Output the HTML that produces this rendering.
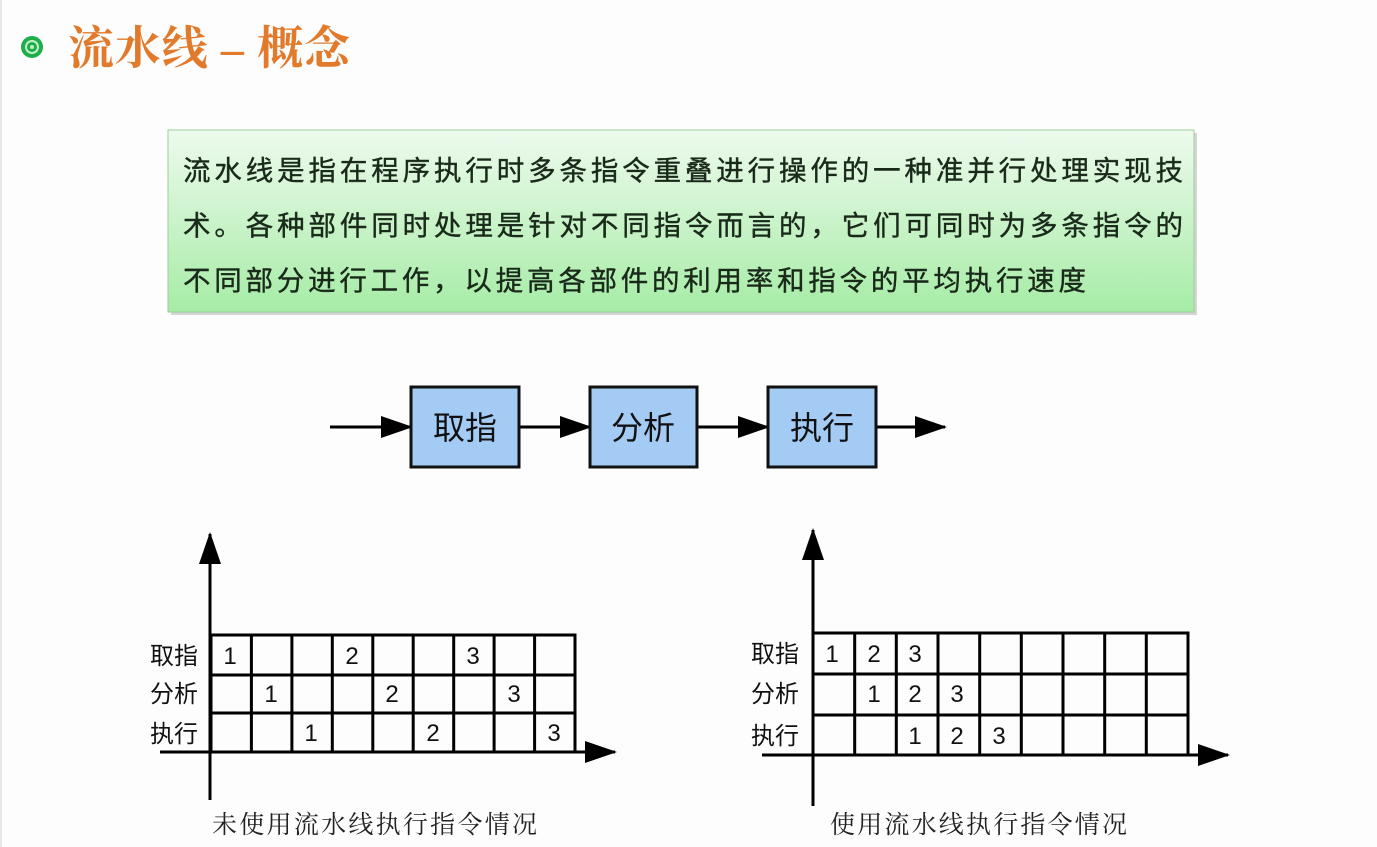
<!DOCTYPE html>
<html><head><meta charset="utf-8"><style>
body{margin:0;width:1377px;height:847px;background:#fdfdfd;overflow:hidden}
svg{display:block}
</style></head><body>
<svg width="1377" height="847" viewBox="0 0 1377 847" xmlns="http://www.w3.org/2000/svg">
<defs>
<linearGradient id="g" x1="0" y1="0" x2="0" y2="1">
<stop offset="0" stop-color="#eefaee"/><stop offset="1" stop-color="#a6eca6"/>
</linearGradient>
<marker id="a" markerWidth="32" markerHeight="22" refX="30" refY="11" orient="auto" markerUnits="userSpaceOnUse" viewBox="0 0 32 22"><path d="M0,0 L32,11 L0,22 z" fill="#000"/></marker>
</defs>
<rect x="0" y="0" width="2" height="847" fill="#e8e8e8"/>
<!-- title -->
<circle cx="32" cy="47" r="11" fill="#1fae4a"/>
<circle cx="32" cy="47" r="6" fill="none" stroke="#bff0c8" stroke-width="2"/>
<circle cx="32" cy="47" r="2" fill="#bff0c8"/>
<text x="68" y="64" font-family="'Liberation Serif','Noto Serif CJK SC',serif" font-size="46" font-weight="bold" fill="#e27a2c" textLength="282">流水线 – 概念</text>
<!-- green box -->
<rect x="171" y="133" width="1026" height="182" fill="#bbb" opacity="0.6"/>
<rect x="168" y="130" width="1026" height="182" fill="url(#g)" stroke="#9ccf9c" stroke-width="1"/>
<g font-family="'Liberation Sans','Noto Sans CJK SC',sans-serif" font-size="27.5" fill="#1a2a1a" stroke="#1a2a1a" stroke-width="0.4">
<text x="183" y="180" textLength="1000">流水线是指在程序执行时多条指令重叠进行操作的一种准并行处理实现技</text>
<text x="183" y="235" textLength="1000">术。各种部件同时处理是针对不同指令而言的，它们可同时为多条指令的</text>
<text x="183" y="290" textLength="903">不同部分进行工作，以提高各部件的利用率和指令的平均执行速度</text>
</g>
<!-- flow -->
<g stroke="#000" stroke-width="3">
<line x1="330" y1="427" x2="411" y2="427" marker-end="url(#a)"/>
<line x1="519" y1="427" x2="590" y2="427" marker-end="url(#a)"/>
<line x1="697" y1="427" x2="768" y2="427" marker-end="url(#a)"/>
<line x1="876" y1="427" x2="945" y2="427" marker-end="url(#a)"/>
</g>
<g fill="#a4cbf4" stroke="#111" stroke-width="3">
<rect x="411" y="387" width="108" height="80"/>
<rect x="590" y="387" width="107" height="80"/>
<rect x="768" y="387" width="108" height="80"/>
</g>
<g font-family="'Liberation Sans','Noto Sans CJK SC',sans-serif" font-size="32" fill="#111" text-anchor="middle">
<text x="465" y="439">取指</text><text x="643" y="439">分析</text><text x="822" y="439">执行</text>
</g>
<!-- left chart -->
<g stroke="#000" stroke-width="3" fill="none">
<line x1="210" y1="800" x2="210" y2="534" marker-end="url(#a)"/>
<line x1="160" y1="752" x2="615" y2="752" marker-end="url(#a)"/>
<rect x="211" y="635" width="364" height="117"/>
<line x1="211" y1="675" x2="575" y2="675"/><line x1="211" y1="713" x2="575" y2="713"/>
<line x1="251.4" y1="635" x2="251.4" y2="752"/><line x1="291.9" y1="635" x2="291.9" y2="752"/>
<line x1="332.3" y1="635" x2="332.3" y2="752"/><line x1="372.8" y1="635" x2="372.8" y2="752"/>
<line x1="413.2" y1="635" x2="413.2" y2="752"/><line x1="453.7" y1="635" x2="453.7" y2="752"/>
<line x1="494.1" y1="635" x2="494.1" y2="752"/><line x1="534.6" y1="635" x2="534.6" y2="752"/>
</g>
<g font-family="'Liberation Sans','Noto Sans CJK SC',sans-serif" font-size="24" fill="#111" text-anchor="middle">
<text x="174" y="664">取指</text><text x="174" y="702">分析</text><text x="174" y="742">执行</text>
<text x="230" y="664">1</text><text x="352" y="664">2</text><text x="473" y="664">3</text>
<text x="271" y="702">1</text><text x="392" y="702">2</text><text x="514" y="702">3</text>
<text x="311" y="741">1</text><text x="433" y="741">2</text><text x="554" y="741">3</text>
</g>
<!-- right chart -->
<g stroke="#000" stroke-width="3" fill="none">
<line x1="813" y1="806" x2="813" y2="530" marker-end="url(#a)"/>
<line x1="762" y1="755" x2="1228" y2="755" marker-end="url(#a)"/>
<rect x="813" y="633" width="375" height="122"/>
<line x1="813" y1="674" x2="1188" y2="674"/><line x1="813" y1="715" x2="1188" y2="715"/>
<line x1="854.7" y1="633" x2="854.7" y2="755"/><line x1="896.3" y1="633" x2="896.3" y2="755"/>
<line x1="938" y1="633" x2="938" y2="755"/><line x1="979.7" y1="633" x2="979.7" y2="755"/>
<line x1="1021.3" y1="633" x2="1021.3" y2="755"/><line x1="1063" y1="633" x2="1063" y2="755"/>
<line x1="1104.7" y1="633" x2="1104.7" y2="755"/><line x1="1146.3" y1="633" x2="1146.3" y2="755"/>
</g>
<g font-family="'Liberation Sans','Noto Sans CJK SC',sans-serif" font-size="24" fill="#111" text-anchor="middle">
<text x="775" y="662">取指</text><text x="775" y="702">分析</text><text x="775" y="744">执行</text>
<text x="832" y="662">1</text><text x="874" y="662">2</text><text x="915" y="662">3</text>
<text x="874" y="702">1</text><text x="915" y="702">2</text><text x="957" y="702">3</text>
<text x="915" y="744">1</text><text x="957" y="744">2</text><text x="999" y="744">3</text>
</g>
<g font-family="'Liberation Serif','Noto Serif CJK SC',serif" font-size="25" fill="#222">
<text x="212" y="833" textLength="325">未使用流水线执行指令情况</text>
<text x="830" y="833" textLength="297">使用流水线执行指令情况</text>
</g>
</svg>
</body></html>
